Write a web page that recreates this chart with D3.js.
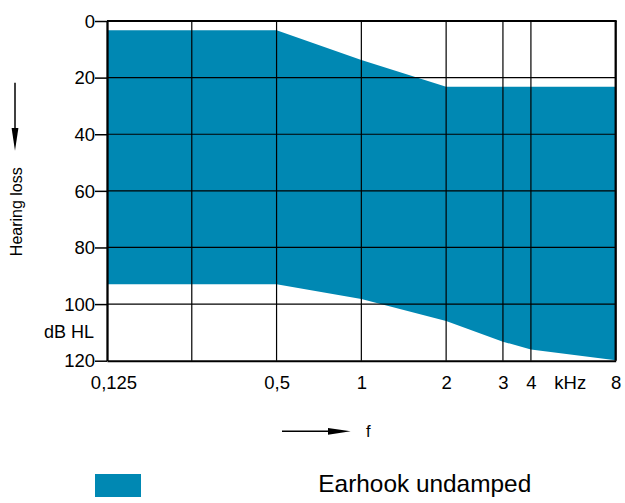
<!DOCTYPE html>
<html lang="en"><head>
<meta charset="UTF-8">
<title>Earhook undamped</title>
<script src="https://cdn.jsdelivr.net/npm/d3@7"></script>
<style>
body { margin: 0; background: #fff; }
text { font-family: "Liberation Sans", Arial, sans-serif; fill: #000; }
</style>
</head>
<body>
<script>

var width = 625;
var height = 503;

// grid columns (kHz) and where each column sits, in octaves above 125 Hz as printed
var gridFreqs   = [0.125, 0.25, 0.5, 1, 2, 3, 4, 8];
var gridOctaves = [0, 1, 2, 3, 4, 4.67, 5, 6];

// labelled frequencies
var labelFreqs = [0.125, 0.5, 1, 2, 3, 4, 8];
var labelTexts = ["0,125", "0,5", "1", "2", "3", "4", "8"];

// hearing loss ticks (dB HL)
var dbTicks = [0, 20, 40, 60, 80, 100, 120];

// fitting range of the earhook: upper and lower edge (dB HL)
var bandFreqs  = [0.125, 0.5, 1, 2, 3, 4, 8];
var bandTop    = [3.3, 3.3, 13.8, 23.2, 23.2, 23.2, 23.2];
var bandBottom = [93, 93, 98.2, 106, 113.3, 116, 119.8];

var bandColor = "#0088b3";

var plotLeft = 107, plotRight = 615.7, plotTop = 21, plotBottom = 360.7;

var xOct = d3.scaleLinear().domain([0, 6]).range([plotLeft, plotRight]);
// piecewise scale from kHz to pixels through the printed column positions
var x = d3.scaleLinear().domain(gridFreqs).range(gridOctaves.map(function(o){ return xOct(o); }));
var y = d3.scaleLinear().domain([0, 120]).range([plotTop, plotBottom]);

var svg = d3.select("body").append("svg")
            .attr("width", width)
            .attr("height", height);

var band = bandFreqs.map(function(f, i){ return {f: f, t: bandTop[i], b: bandBottom[i]}; });

var area = d3.area()
             .x(function(d){ return x(d.f); })
             .y0(function(d){ return y(d.t); })
             .y1(function(d){ return y(d.b); });

svg.append("path")
   .datum(band)
   .attr("d", area)
   .attr("fill", bandColor);

// grid
svg.selectAll(".hgrid")
   .data(dbTicks.slice(1, -1)).enter()
   .append("line")
   .attr("x1", plotLeft).attr("x2", plotRight)
   .attr("y1", function(d){ return y(d); })
   .attr("y2", function(d){ return y(d); })
   .attr("stroke", "#000")
   .attr("stroke-width", 1.2);

svg.selectAll(".vgrid")
   .data(gridFreqs.slice(1, -1)).enter()
   .append("line")
   .attr("x1", function(d){ return x(d); })
   .attr("x2", function(d){ return x(d); })
   .attr("y1", plotTop).attr("y2", plotBottom)
   .attr("stroke", "#000")
   .attr("stroke-width", 1.2);

// frame top and right
svg.append("line")
   .attr("x1", plotLeft).attr("x2", plotRight + 1)
   .attr("y1", plotTop).attr("y2", plotTop)
   .attr("stroke", "#000").attr("stroke-width", 2);
svg.append("line")
   .attr("x1", plotRight).attr("x2", plotRight)
   .attr("y1", plotTop).attr("y2", plotBottom)
   .attr("stroke", "#000").attr("stroke-width", 2.3);

// y axis
var yAxis = svg.append("g")
   .attr("transform", "translate(" + plotLeft + ",0)")
   .call(d3.axisLeft(y).tickValues(dbTicks).tickSize(12).tickSizeOuter(0).tickPadding(0));
yAxis.select(".domain").attr("stroke-width", 2.3);
yAxis.selectAll(".tick line").attr("stroke-width", 1.5);
yAxis.selectAll("text")
     .attr("font-size", 18.5)
     .attr("font-family", "Liberation Sans, Arial, sans-serif")
     .attr("dy", "0.34em");

// x axis
var xAxis = svg.append("g")
   .attr("transform", "translate(0," + plotBottom + ")")
   .call(d3.axisBottom(x).tickValues(labelFreqs).tickSize(0).tickSizeOuter(0).tickPadding(15.3)
          .tickFormat(function(d, i){ return labelTexts[i]; }));
xAxis.select(".domain").attr("stroke-width", 2);
xAxis.selectAll("text")
     .attr("font-size", 18.5)
     .attr("font-family", "Liberation Sans, Arial, sans-serif")
     .attr("dx", function(d){ return d === 0.125 ? 6.5 : 0; });

svg.append("text")
   .attr("x", (x(4) + x(8)) / 2 - 3)
   .attr("y", 389)
   .attr("text-anchor", "middle")
   .attr("font-size", 18.5)
   .text("kHz");

svg.append("text")
   .attr("x", 94)
   .attr("y", 338.3)
   .attr("text-anchor", "end")
   .attr("font-size", 18)
   .text("dB HL");

// y label with arrow
svg.append("line")
   .attr("x1", 15).attr("x2", 15)
   .attr("y1", 82.7).attr("y2", 130)
   .attr("stroke", "#000").attr("stroke-width", 1.5);
svg.append("path")
   .attr("d", "M11.6,128 L18.4,128 L15,150.7 Z")
   .attr("fill", "#000");
svg.append("text")
   .attr("transform", "translate(21.8,211.7) rotate(-90)")
   .attr("text-anchor", "middle")
   .attr("font-size", 16)
   .text("Hearing loss");

// x label with arrow
svg.append("line")
   .attr("x1", 282).attr("x2", 330)
   .attr("y1", 431.3).attr("y2", 431.3)
   .attr("stroke", "#000").attr("stroke-width", 1.5);
svg.append("path")
   .attr("d", "M328,427.9 L328,434.7 L350.7,431.3 Z")
   .attr("fill", "#000");
svg.append("text")
   .attr("x", 366)
   .attr("y", 437.3)
   .attr("font-size", 16.5)
   .text("f");

// legend
svg.append("rect")
   .attr("x", 95).attr("y", 474)
   .attr("width", 46).attr("height", 23)
   .attr("fill", bandColor);
svg.append("text")
   .attr("x", 318.3)
   .attr("y", 492.3)
   .attr("font-size", 24.4)
   .text("Earhook undamped");

</script>
</body></html>
